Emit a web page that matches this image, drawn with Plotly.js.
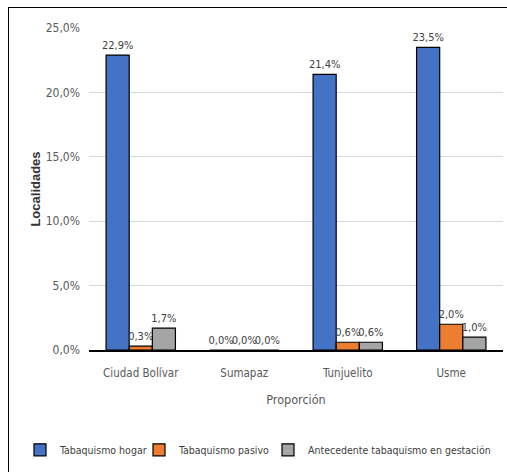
<!DOCTYPE html>
<html>
<head>
<meta charset="utf-8">
<script src="https://cdn.plot.ly/plotly-3.0.1.min.js"></script>
<style>
  body { margin: 0; background: #fff; }
  #wrap { position: relative; width: 507px; height: 472px; }
  #chart { width: 507px; height: 472px; }
  #frame {
    position: absolute; left: 8px; top: 7px; width: 520px; height: 480px;
    border-left: 1.5px solid #000; border-top: 1.5px solid #000;
    pointer-events: none;
  }
</style>
</head>
<body>
<div id="wrap">
  <div id="chart"></div>
  <div id="frame"></div>
</div>
<script>
// localidades y proporciones (fracciones)
const localidades = ['Ciudad Bolívar', 'Sumapaz', 'Tunjuelito', 'Usme']
const tabHogar = [0.229, 0.0, 0.214, 0.235]
const tabPasivo = [0.003, 0.0, 0.006, 0.020]
const antecedente = [0.017, 0.0, 0.006, 0.010]
const yTicks = [0, 0.05, 0.10, 0.15, 0.20, 0.25]

const font = 'DejaVu Sans Condensed, Liberation Sans Narrow, sans-serif'

function serie (name, values, color, legend) {
  return {
    type: 'bar',
    name: name,
    legend: legend,
    x: localidades,
    y: values,
    marker: { color: color, line: { color: '#000', width: 1.2 } },
    texttemplate: '%{y:.1%}',
    textposition: 'outside',
    constraintext: 'none',
    cliponaxis: false,
    textfont: { family: font, size: 11, color: '#404040' },
    hoverinfo: 'x+y+name'
  }
}

var data = [
  serie('Tabaquismo hogar', tabHogar, '#4472c4', 'legend'),
  serie('Tabaquismo pasivo', tabPasivo, '#ed7d31', 'legend2'),
  serie('Antecedente tabaquismo en gestación', antecedente, '#a5a5a5', 'legend3')
]

// one legend box per series, so the row can sit tighter than one box allows
function legendAt (px) {
  return {
    orientation: 'h',
    x: (px - 89) / 414,
    xanchor: 'left',
    y: -0.265,
    yanchor: 'top',
    font: { family: font, size: 10.5, color: '#404040' },
    itemwidth: 30,
    bgcolor: 'rgba(0,0,0,0)'
  }
}

var layout = {
  width: 507,
  height: 472,
  margin: { l: 89, r: 4, t: 28, b: 122, autoexpand: false },
  separators: ',.',
  paper_bgcolor: '#fff',
  plot_bgcolor: '#fff',
  font: { family: font, size: 11, color: '#595959' },
  barmode: 'group',
  bargap: 0.33,
  bargroupgap: 0,
  xaxis: {
    showline: true,
    linecolor: '#000',
    linewidth: 1.5,
    ticks: '',
    ticklabelstandoff: 12,
    tickfont: { family: font, size: 11.5, color: '#595959' },
    title: { text: 'Proporción', font: { family: font, size: 12.5, color: '#595959' }, standoff: 16 }
  },
  yaxis: {
    range: [0, 0.25],
    tickvals: yTicks,
    tickformat: '.1%',
    showgrid: true,
    gridcolor: '#d9d9d9',
    gridwidth: 1,
    zeroline: false,
    showline: false,
    ticks: '',
    ticklabelstandoff: 8,
    tickfont: { family: font, size: 12, color: '#595959' },
    title: { text: 'Localidades', font: { family: 'Liberation Sans, sans-serif', size: 13, color: '#333', weight: 'bold' }, standoff: 2 }
  },
  showlegend: true,
  legend: legendAt(20),
  legend2: legendAt(139),
  legend3: legendAt(268)
}

Plotly.newPlot('chart', data, layout, { displayModeBar: false, staticPlot: true })
</script>
</body>
</html>
